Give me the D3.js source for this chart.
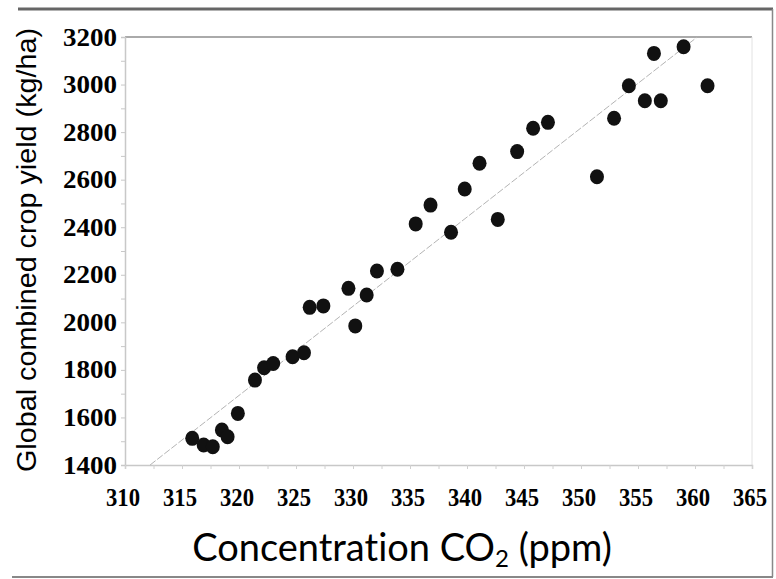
<!DOCTYPE html>
<html>
<head>
<meta charset="utf-8">
<script src="https://cdn.jsdelivr.net/npm/d3@7"></script>
<style>
  html, body { margin: 0; padding: 0; background: #fff; }
  .workspace { width: 776px; height: 579px; }
</style>
</head>
<body>
<div class="workspace"></div>
<script>
// data
const co2 = [
  315.9, 316.9, 317.7, 318.5, 319.0, 319.9, 321.4, 322.2, 323.0, 324.7,
  325.7, 326.2, 327.4, 329.6, 330.2, 331.2, 332.1, 333.9, 335.5, 336.8,
  338.6, 339.8, 341.1, 342.7, 344.4, 345.8, 347.1, 351.4, 352.9, 354.2,
  355.6, 356.4, 357.0, 359.0, 361.1,
];
const cropYield = [
  1512, 1484, 1477, 1547, 1519, 1617, 1757, 1809, 1827, 1855,
  1872, 2063, 2069, 2143, 1985, 2115, 2216, 2223, 2414, 2493,
  2379, 2561, 2669, 2433, 2718, 2816, 2841, 2612, 2858, 2995,
  2932, 3131, 2932, 3159, 2995,
];
// trend line end points
const fitCo2 = [312.2, 360.2];
const fitYield = [1400, 3200];

const xTickLabels = [310, 315, 320, 325, 330, 335, 340, 345, 350, 355, 360, 365];
const xMinorTicks = [310, 312.5, 315, 317.5, 320, 322.5, 325, 327.5, 330, 332.5, 335, 337.5,
  340, 342.5, 345, 347.5, 350, 352.5, 355, 357.5, 360, 362.5, 365];
const yTickLabels = [1400, 1600, 1800, 2000, 2200, 2400, 2600, 2800, 3000, 3200];
const yMinorTicks = [1400, 1500, 1600, 1700, 1800, 1900, 2000, 2100, 2200, 2300, 2400,
  2500, 2600, 2700, 2800, 2900, 3000, 3100, 3200];

const width = 776;
const height = 579;
const plot = { left: 125, right: 752, top: 37, bottom: 465 };

const svg = d3
  .select('.workspace')
  .append('svg')
  .attr('width', width)
  .attr('height', height)
  .attr('viewBox', `0 0 ${width} ${height}`);

const x = d3.scaleLinear().domain([310, 365]).range([plot.left, plot.right]);
const y = d3.scaleLinear().domain([1400, 3200]).range([plot.bottom, plot.top]);

// outer frame of the screenshot
svg.append('line')
  .attr('x1', 18).attr('x2', 773).attr('y1', 9).attr('y2', 9)
  .style('stroke', '#666').style('stroke-width', 3);
svg.append('line')
  .attr('x1', 772.5).attr('x2', 772.5).attr('y1', 9).attr('y2', 577)
  .style('stroke', '#888').style('stroke-width', 1.5);
svg.append('line')
  .attr('x1', 12).attr('x2', 773).attr('y1', 577).attr('y2', 577)
  .style('stroke', '#888').style('stroke-width', 2);

// plot box
svg.append('line')
  .attr('x1', plot.left).attr('x2', plot.right).attr('y1', plot.top).attr('y2', plot.top)
  .style('stroke', '#aaa').style('stroke-width', 2);
svg.append('line')
  .attr('x1', plot.right).attr('x2', plot.right).attr('y1', plot.top).attr('y2', plot.bottom)
  .style('stroke', '#e2e2e2').style('stroke-width', 1);

// y axis
const yAxis = svg.append('g')
  .attr('transform', `translate(${plot.left},0)`)
  .call(d3.axisLeft(y).tickValues(yMinorTicks).tickSize(4).tickFormat(''));
yAxis.select('.domain').style('stroke', '#c8c8c8').style('stroke-width', 1.5);
yAxis.selectAll('.tick line').style('stroke', '#c8c8c8');

svg.append('g')
  .selectAll('text')
  .data(yTickLabels)
  .enter()
  .append('text')
  .attr('x', 117)
  .attr('y', (d) => y(d) + 8.5)
  .attr('text-anchor', 'end')
  .attr('textLength', 54)
  .attr('lengthAdjust', 'spacingAndGlyphs')
  .style('font-family', '"Liberation Serif", "Times New Roman", serif')
  .style('font-weight', 'bold')
  .style('font-size', '26px')
  .style('fill', '#000')
  .text((d) => d);

// x axis
const xAxis = svg.append('g')
  .attr('transform', `translate(0,${plot.bottom})`)
  .call(d3.axisBottom(x).tickValues(xMinorTicks).tickSize(4).tickFormat(''));
xAxis.select('.domain').style('stroke', '#c8c8c8').style('stroke-width', 1.5);
xAxis.selectAll('.tick line').style('stroke', '#d0d0d0');

svg.append('g')
  .selectAll('text')
  .data(xTickLabels)
  .enter()
  .append('text')
  .attr('x', (d) => x(d) - 2)
  .attr('y', 506)
  .attr('text-anchor', 'middle')
  .attr('textLength', 34)
  .attr('lengthAdjust', 'spacingAndGlyphs')
  .style('font-family', '"Liberation Serif", "Times New Roman", serif')
  .style('font-weight', 'bold')
  .style('font-size', '26px')
  .style('fill', '#000')
  .text((d) => d);

// trend line
svg.append('line')
  .attr('x1', x(fitCo2[0])).attr('y1', y(fitYield[0]))
  .attr('x2', x(fitCo2[1])).attr('y2', y(fitYield[1]))
  .style('stroke', '#b4b4b4')
  .style('stroke-width', 1)
  .style('stroke-dasharray', '7,2');

// points
svg.append('g')
  .selectAll('ellipse')
  .data(co2)
  .enter()
  .append('ellipse')
  .attr('cx', (d) => x(d))
  .attr('cy', (d, i) => y(cropYield[i]))
  .attr('rx', 7)
  .attr('ry', 7.5)
  .style('fill', '#111');

// axis titles
svg.append('text')
  .attr('transform', 'translate(36,250) rotate(-90)')
  .attr('text-anchor', 'middle')
  .attr('textLength', 444)
  .attr('lengthAdjust', 'spacingAndGlyphs')
  .style('font-family', '"Liberation Sans", Arial, sans-serif')
  .style('font-size', '27px')
  .style('fill', '#000')
  .text('Global combined crop yield (kg/ha)');

const xTitle = svg.append('text')
  .attr('x', 402)
  .attr('y', 561)
  .attr('text-anchor', 'middle')
  .style('font-family', 'Lato, "Open Sans", sans-serif')
  .style('font-variant-ligatures', 'none')
  .style('font-size', '38px')
  .style('fill', '#000');
xTitle.append('tspan').text('Concentration CO');
xTitle.append('tspan').attr('dy', 6).style('font-size', '24px').text('2');
xTitle.append('tspan').attr('dy', -6).text(' (ppm)');
</script>
</body>
</html>
